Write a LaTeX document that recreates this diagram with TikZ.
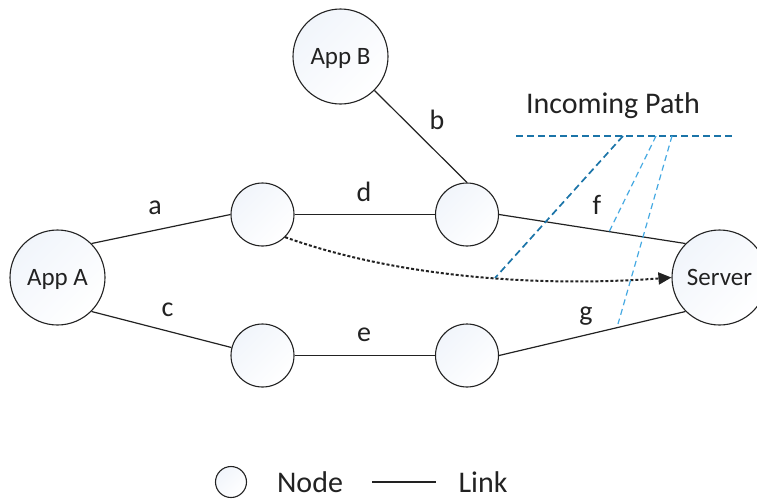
\documentclass[tikz,border=0pt]{standalone}
\usepackage{fontspec}
\setmainfont{Carlito}
\usetikzlibrary{arrows.meta}
\definecolor{ink}{HTML}{222222}
\definecolor{pathdark}{HTML}{1B74A8}
\definecolor{pathlight}{HTML}{45A9E2}
\definecolor{shadeblue}{RGB}{241,245,251}

\begin{document}
\begin{tikzpicture}[x=1pt, y=-1pt,
  every node/.style={text=ink},
  app/.style={circle, draw=ink, line width=1.1pt, minimum size=95pt, inner sep=0pt,
    top color=shadeblue, bottom color=white, shading angle=45, text depth=0pt,
    font=\fontsize{25}{30}\selectfont},
  hop/.style={app, minimum size=63pt},
  lbl/.style={inner sep=0pt, font=\fontsize{28}{32}\selectfont},
  big/.style={inner sep=0pt, font=\fontsize{30}{36}\selectfont},
  link/.style={draw=ink, line width=1.2pt},
  route/.style={draw=ink, line width=2pt, dash pattern=on 3pt off 2pt, -{Triangle[length=13pt,width=12pt]}},
  darkdash/.style={draw=pathdark, line width=1.7pt, dash pattern=on 7pt off 4pt},
  lightdash/.style={draw=pathlight, line width=1.2pt, dash pattern=on 6pt off 4pt}]
\useasboundingbox (0,0) rectangle (757,499);
%
\node[app](appA) at (57.5,277.5){App A};
\node[app](appB) at (340.5,56.5){App B};
\node[app](server) at (719.5,277.5){Server};
\node[hop](n1) at (262.5,214.5){};
\node[hop](n2) at (467,214.5){};
\node[hop](n3) at (262.5,355.5){};
\node[hop](n4) at (467,355.5){};
%
\draw[link](appA.45)--(n1.west);
\draw[link](appA.-45)--(n3);
\draw[link](appB.-45)--(n2.north);
\draw[link](n1)--(n2);
\draw[link](n3)--(n4);
\draw[link](n2.east)--(server.135);
\draw[link](n4.east)--(server.-135);
%
\node[lbl](la) at (155,208){a};
\node[lbl](lb) at (437,120){b};
\node[lbl](lc) at (167.5,310){c};
\node[lbl](ld) at (364,192){d};
\node[lbl](le) at (364,335){e};
\node[lbl](lf) at (597,205){f};
\node[lbl](lg) at (586,316){g};
%
\draw[route](n1.-45) .. controls (390,275) and (530,288) .. (server.west);
%
\node[big, anchor=base](inc) at (613,113){Incoming Path};
\coordinate(p1) at (516,136);
\coordinate(p2) at (733,136);
\coordinate(q1) at (623,136);
\coordinate(q2) at (656,136);
\coordinate(q3) at (672,136);
\coordinate(r1) at (495,278);
\coordinate(r2) at (609,232);
\coordinate(r3) at (618,324);
\draw[darkdash](p1)--(p2);
\draw[darkdash](q1)--(r1);
\draw[lightdash](q2)--(r2);
\draw[lightdash](q3)--(r3);
%
\node[hop, minimum size=31pt](legnode) at (231,482){};
\node[big](legnodetxt) at (310,482){Node};
\coordinate(lk1) at (372,482);
\coordinate(lk2) at (436,482);
\draw[link](lk1)--(lk2);
\node[big](leglinktxt) at (483,482){Link};
\end{tikzpicture}
\end{document}
